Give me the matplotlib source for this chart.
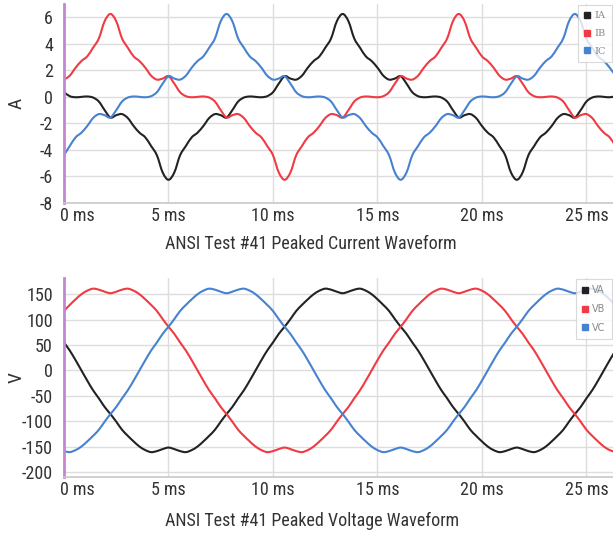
import matplotlib
matplotlib.use('Agg')
import matplotlib.pyplot as plt
import numpy as np
from matplotlib import font_manager
from matplotlib.lines import Line2D
from matplotlib.path import Path
from matplotlib.patches import PathPatch
from matplotlib.transforms import ScaledTranslation

# ---- data (samples every 1/60 of a 60 Hz cycle) ----
t_ms = np.arange(96) * (1000.0 / 60.0) / 60.0

IA = [0.35, 0.05, -0.03, 0.0,
      0.03, -0.05, -0.35, -1.0, -1.56, -1.38, -1.3, -1.6, -2.2, -2.7, -3.05, -3.7, -4.4, -5.7, -6.25,
      -5.7, -4.4, -3.7, -3.05, -2.7, -2.2, -1.6, -1.3, -1.38, -1.56, -1.0, -0.35, -0.05, 0.03, 0.0,
      -0.03, 0.05, 0.35, 1.0, 1.56, 1.38, 1.3, 1.6, 2.2, 2.7, 3.05, 3.7, 4.4, 5.7,
      6.25, 5.7, 4.4, 3.7, 3.05, 2.7, 2.2, 1.6, 1.3, 1.38, 1.56, 1.0, 0.35, 0.05, -0.03, 0.0,
      0.03, -0.05, -0.35, -1.0, -1.56, -1.38, -1.3, -1.6, -2.2, -2.7, -3.05, -3.7, -4.4, -5.7, -6.25,
      -5.7, -4.4, -3.7, -3.05, -2.7, -2.2, -1.6, -1.3, -1.38, -1.56, -1.0, -0.35, -0.05, 0.03, 0.0,
      -0.03, 0.05]
IB = [1.3, 1.6, 2.2, 2.7, 3.05, 3.7, 4.4, 5.7,
      6.25, 5.7, 4.4, 3.7, 3.05, 2.7, 2.2, 1.6, 1.3, 1.38, 1.56, 1.0, 0.35, 0.05, -0.03, 0.0,
      0.03, -0.05, -0.35, -1.0, -1.56, -1.38, -1.3, -1.6, -2.2, -2.7, -3.05, -3.7, -4.4, -5.7, -6.25,
      -5.7, -4.4, -3.7, -3.05, -2.7, -2.2, -1.6, -1.3, -1.38, -1.56, -1.0, -0.35, -0.05, 0.03, 0.0,
      -0.03, 0.05, 0.35, 1.0, 1.56, 1.38, 1.3, 1.6, 2.2, 2.7, 3.05, 3.7, 4.4, 5.7,
      6.25, 5.7, 4.4, 3.7, 3.05, 2.7, 2.2, 1.6, 1.3, 1.38, 1.56, 1.0, 0.35, 0.05, -0.03, 0.0,
      0.03, -0.05, -0.35, -1.0, -1.56, -1.38, -1.3, -1.6, -2.2, -2.7, -3.05, -3.7]
IC = [-4.4, -3.7, -3.05, -2.7, -2.2, -1.6, -1.3, -1.38, -1.56, -1.0, -0.35, -0.05, 0.03, 0.0,
      -0.03, 0.05, 0.35, 1.0, 1.56, 1.38, 1.3, 1.6, 2.2, 2.7, 3.05, 3.7, 4.4, 5.7,
      6.25, 5.7, 4.4, 3.7, 3.05, 2.7, 2.2, 1.6, 1.3, 1.38, 1.56, 1.0, 0.35, 0.05, -0.03, 0.0,
      0.03, -0.05, -0.35, -1.0, -1.56, -1.38, -1.3, -1.6, -2.2, -2.7, -3.05, -3.7, -4.4, -5.7, -6.25,
      -5.7, -4.4, -3.7, -3.05, -2.7, -2.2, -1.6, -1.3, -1.38, -1.56, -1.0, -0.35, -0.05, 0.03, 0.0,
      -0.03, 0.05, 0.35, 1.0, 1.56, 1.38, 1.3, 1.6, 2.2, 2.7, 3.05, 3.7, 4.4, 5.7,
      6.25, 5.7, 4.4, 3.7, 3.05, 2.7, 2.2, 1.6]

VA = [55, 39, 20, 0,
      -20, -39, -55, -72, -86, -101, -117, -129, -140, -150, -157, -161, -159, -155, -152,
      -155, -159, -161, -157, -150, -140, -129, -117, -101, -86, -72, -55, -39, -20, 0,
      20, 39, 55, 72, 86, 101, 117, 129, 140, 150, 157, 161, 159, 155,
      152, 155, 159, 161, 157, 150, 140, 129, 117, 101, 86, 72, 55, 39, 20, 0,
      -20, -39, -55, -72, -86, -101, -117, -129, -140, -150, -157, -161, -159, -155, -152,
      -155, -159, -161, -157, -150, -140, -129, -117, -101, -86, -72, -55, -39, -20, 0,
      20, 39]
VB = [117, 129, 140, 150, 157, 161, 159, 155,
      152, 155, 159, 161, 157, 150, 140, 129, 117, 101, 86, 72, 55, 39, 20, 0,
      -20, -39, -55, -72, -86, -101, -117, -129, -140, -150, -157, -161, -159, -155, -152,
      -155, -159, -161, -157, -150, -140, -129, -117, -101, -86, -72, -55, -39, -20, 0,
      20, 39, 55, 72, 86, 101, 117, 129, 140, 150, 157, 161, 159, 155,
      152, 155, 159, 161, 157, 150, 140, 129, 117, 101, 86, 72, 55, 39, 20, 0,
      -20, -39, -55, -72, -86, -101, -117, -129, -140, -150, -157, -161]
VC = [-159, -161, -157, -150, -140, -129, -117, -101, -86, -72, -55, -39, -20, 0,
      20, 39, 55, 72, 86, 101, 117, 129, 140, 150, 157, 161, 159, 155,
      152, 155, 159, 161, 157, 150, 140, 129, 117, 101, 86, 72, 55, 39, 20, 0,
      -20, -39, -55, -72, -86, -101, -117, -129, -140, -150, -157, -161, -159, -155, -152,
      -155, -159, -161, -157, -150, -140, -129, -117, -101, -86, -72, -55, -39, -20, 0,
      20, 39, 55, 72, 86, 101, 117, 129, 140, 150, 157, 161, 159, 155,
      152, 155, 159, 161, 157, 150, 140, 129]

x_ticks = [0, 5, 10, 15, 20, 25]
x_tick_labels = ['0 ms', '5 ms', '10 ms', '15 ms', '20 ms', '25 ms']
i_ticks = [-8, -6, -4, -2, 0, 2, 4, 6]
v_ticks = [-200, -150, -100, -50, 0, 50, 100, 150]
current_labels = ['IA', 'IB', 'IC']
voltage_labels = ['VA', 'VB', 'VC']
colors = ['#222222', '#f03a44', '#4682d0']

# ---- fonts ----
names = {f.name for f in font_manager.fontManager.ttflist}
main_font = 'DejaVu Sans'
fsize = 11
for cand, sz in [('Liberation Sans Narrow', 14), ('Roboto Condensed', 13),
                 ('Open Sans Condensed', 13), ('Roboto', 12)]:
    if cand in names:
        main_font, fsize = cand, sz
        break
plt.rcParams['font.family'] = [main_font, 'DejaVu Sans']
plt.rcParams['axes.unicode_minus'] = False

W, H = 613, 535
fig = plt.figure(figsize=(W / 100, H / 100), dpi=100)
L = 64 / W
ax1 = fig.add_axes([L, 1 - 203 / H, 1 - L, (203 - 4) / H])
ax2 = fig.add_axes([L, 1 - 477 / H, 1 - L, (477 - 278) / H])

text_col = '#333333'
grid_col = '#dddddd'


def style(ax, yticks, ylim, ylabel):
    ax.set_xlim(0, 26.27)
    ax.set_ylim(*ylim)
    ax.set_xticks(x_ticks)
    ax.set_xticklabels(x_tick_labels)
    ax.set_yticks(yticks)
    ax.set_yticklabels([str(v) for v in yticks])
    ax.grid(True, color=grid_col, linewidth=1.0)
    ax.set_axisbelow(True)
    for s in ['top', 'right']:
        ax.spines[s].set_visible(False)
    ax.spines['bottom'].set_color('#c8c8c8')
    ax.spines['bottom'].set_linewidth(1.2)
    ax.spines['left'].set_color('#c486d2')
    ax.spines['left'].set_linewidth(2.0)
    ax.tick_params(axis='both', length=0, labelsize=fsize, colors=text_col)
    ax.tick_params(axis='y', pad=8)
    ax.tick_params(axis='x', pad=3)
    lab0 = ax.get_xticklabels()[0]
    lab0.set_horizontalalignment('left')
    lab0.set_transform(lab0.get_transform() + ScaledTranslation(-4 / 100, 0, fig.dpi_scale_trans))
    ax.set_ylabel(ylabel, fontsize=fsize + 1, color=text_col, labelpad=4)
    ax.yaxis.set_label_coords(-(64 - 17) / 549, 0.5)
    ax.yaxis.label.set_verticalalignment('center')


style(ax1, i_ticks, (-8, 7), 'A')
style(ax2, v_ticks, (-210, 182), 'V')


def smooth_line(ax, x, y, color):
    """Draw a smooth (spline-style) line through the data points with Bezier segments."""
    x = np.asarray(x, float)
    y = np.asarray(y, float)
    p = np.column_stack([x, y])
    pe = np.vstack([p[0], p, p[-1]])
    verts = [p[0]]
    codes = [Path.MOVETO]
    for i in range(len(p) - 1):
        c1 = pe[i + 1] + (pe[i + 2] - pe[i]) / 6.0
        c2 = pe[i + 2] - (pe[i + 3] - pe[i + 1]) / 6.0
        verts += [c1, c2, p[i + 1]]
        codes += [Path.CURVE4] * 3
    patch = PathPatch(Path(np.array(verts), codes), fill=False, edgecolor=color,
                      linewidth=1.5, joinstyle='round', capstyle='round')
    ax.add_patch(patch)


for vals, c in zip([IA, IB, IC], colors):
    smooth_line(ax1, t_ms, vals, c)
for vals, c in zip([VA, VB, VC], colors):
    smooth_line(ax2, t_ms, vals, c)

fig.text(311 / W, 1 - 244 / H, 'ANSI Test #41 Peaked Current Waveform',
         ha='center', va='center', fontsize=fsize, color=text_col)
fig.text(312 / W, 1 - 521 / H, 'ANSI Test #41 Peaked Voltage Waveform',
         ha='center', va='center', fontsize=fsize, color=text_col)


def add_legend(ax, labels, fam):
    handles = [Line2D([], [], marker='s', linestyle='none', markersize=5,
                      markerfacecolor=c, markeredgecolor=c) for c in colors]
    leg = ax.legend(handles, labels, loc='upper right', bbox_to_anchor=(1.0, 1.0),
                    bbox_transform=ax.transAxes, frameon=True, fancybox=False,
                    handlelength=0.6, handletextpad=0.5, labelspacing=0.9,
                    borderpad=0.6, borderaxespad=0.15, prop={'family': fam, 'size': 7})
    leg.get_frame().set_edgecolor('#d0d0d0')
    leg.get_frame().set_linewidth(0.8)
    for tx in leg.get_texts():
        tx.set_color('#888888')


add_legend(ax1, current_labels, 'DejaVu Serif')
add_legend(ax2, voltage_labels, 'DejaVu Sans')

fig.savefig('out.png', dpi=100)
